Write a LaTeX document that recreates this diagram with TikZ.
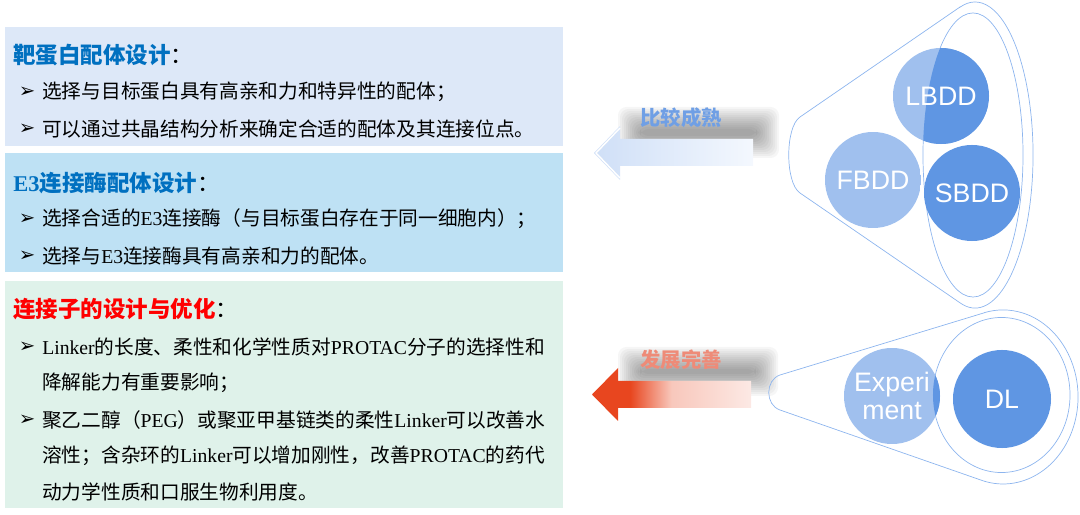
\documentclass[tikz,border=0pt]{standalone}
\usepackage{fontspec}
\setmainfont{Noto Sans CJK SC}
\newfontfamily\tnr{Liberation Serif}
\newfontfamily\arial{Liberation Sans}
\newfontfamily\dejavu{DejaVu Sans}
\usepackage{tikz}
\usepackage{xcolor}
\definecolor{boxTarget}{HTML}{DDE8F8}
\definecolor{boxLigase}{HTML}{BEE1F4}
\definecolor{boxLinker}{HTML}{DFF2EA}
\definecolor{headBlue}{HTML}{0070C0}
\definecolor{headRed}{HTML}{FF0000}
\definecolor{discLight}{HTML}{A0C0EE}
\definecolor{discDark}{HTML}{5F96E3}
\definecolor{rimBlue}{HTML}{8DB5EE}
\definecolor{arrowRed}{HTML}{E8461F}
\definecolor{arrowBlueA}{HTML}{CFDFF7}
\definecolor{arrowBlueB}{HTML}{B6CFF3}
\definecolor{arrowBlueC}{HTML}{F4F8FE}
\definecolor{tagBlue}{HTML}{6F9FE5}
\definecolor{tagRed}{HTML}{EE8B78}
\newcommand\lat[1]{{\tnr #1}}
\newcommand\blt{{\dejavu\fontsize{14}{14}\selectfont ➢}}
\pgfdeclarehorizontalshading{redfade}{100bp}{color(0bp)=(arrowRed); color(25bp)=(arrowRed); color(37bp)=(arrowRed); color(50bp)=(arrowRed!30!white); color(75bp)=(arrowRed!12!white); color(100bp)=(arrowRed!12!white)}

\begin{document}
\begin{tikzpicture}[x=0.025cm, y=0.025cm,
  headtxt/.style={anchor=west, inner sep=0pt, font=\fontsize{16}{18}\selectfont},
  bodytxt/.style={anchor=west, inner sep=0pt, font=\fontsize{14}{16}\selectfont},
  bulletsym/.style={inner sep=0pt},
  tagtxt/.style={inner sep=0pt, font=\bfseries\fontsize{14.5}{16}\selectfont},
  rim/.style={draw=rimBlue, line width=0.5pt},
  disc/.style={circle, inner sep=0pt, minimum size=2.4cm, text=white, align=center,
    font=\arial\fontsize{19}{20.5}\selectfont},
  darkdisc/.style={disc, fill=discDark},
  halfdisc/.style={disc, path picture={
    \fill[discLight] (path picture bounding box.south west) rectangle (path picture bounding box.north east);
    \fill[discDark] #1;}}]
  \useasboundingbox (0,0) rectangle (1080,514);

  % three panels
  \fill[boxTarget] (5,368) rectangle (563,487);
  \fill[boxLigase] (5,242) rectangle (563,361);
  \fill[boxLinker] (5,6) rectangle (563,233);

  \node[headtxt] (hTarget) at (13,459) {\textcolor{headBlue}{\bfseries 靶蛋白配体设计}：};
  \node[headtxt] (hLigase) at (13,331) {\textcolor{headBlue}{\bfseries\lat{E3}连接酶配体设计}：};
  \node[headtxt] (hLinker) at (13,205) {\textcolor{headRed}{\bfseries 连接子的设计与优化}：};

  \foreach \y [count=\i] in {422,385,295,258,167,94}
    \node[bulletsym] (blt\i) at (27,\y) {\blt};

  \node[bodytxt] (t1) at (42,422) {选择与目标蛋白具有高亲和力和特异性的配体；};
  \node[bodytxt] (t2) at (42,385) {可以通过共晶结构分析来确定合适的配体及其连接位点。};
  \node[bodytxt] (t3) at (42,295) {选择合适的\lat{E3}连接酶（与目标蛋白存在于同一细胞内）；};
  \node[bodytxt] (t4) at (42,258) {选择与\lat{E3}连接酶具有高亲和力的配体。};
  \node[bodytxt] (t5) at (42,167) {\lat{Linker}的长度、柔性和化学性质对\lat{PROTAC}分子的选择性和};
  \node[bodytxt] (t6) at (42,131) {降解能力有重要影响；};
  \node[bodytxt] (t7) at (42,94) {聚乙二醇（\lat{PEG}）或聚亚甲基链类的柔性\lat{Linker}可以改善水};
  \node[bodytxt] (t8) at (42,58) {溶性；含杂环的\lat{Linker}可以增加刚性，改善\lat{PROTAC}的药代};
  \node[bodytxt] (t9) at (42,22) {动力学性质和口服生物利用度。};

  % blurred shadows behind the arrows
  \foreach \k in {0,...,11} {
    \fill[black, opacity=0.035, rounded corners=6pt] ({618+2*\k},{356+2*\k}) rectangle ({779-2*\k},{407-2*\k});
    \fill[black, opacity=0.035, rounded corners=6pt] ({618+2*\k},{118+2*\k}) rectangle ({778-2*\k},{167-2*\k});
  }

  % arrows
  \shade[left color=arrowBlueA, middle color=arrowBlueB, right color=arrowBlueC] (594,361) -- (620,388) -- (620,375) -- (753,375) -- (753,348) -- (620,348) -- (620,334) -- cycle;
  \draw[white, line width=1pt] (620,386) -- (596,361) -- (620,336);
  \shade[shading=redfade] (592,119.5) -- (618,146) -- (618,133) -- (751,133) -- (751,106) -- (618,106) -- (618,93) -- cycle;

  \node[tagtxt, text=tagBlue] (tagTop) at (681,396) {比较成熟};
  \node[tagtxt, text=tagRed] (tagLow) at (681,154) {发展完善};

  % funnels
  \coordinate (coreTop) at (973,359);
  \coordinate (coreLow) at (1001.5,119);
  \draw[rim] (960,507) -- (800,397) .. controls (785,387) and (785,331) .. (800,321) -- (960.4,210.9)
    arc[start angle=-104.6, end angle=105, x radius=1.45cm, y radius=3.825cm] -- cycle;
  \draw[rim] (coreTop) ellipse[x radius=1.25cm, y radius=3.55cm];
  \draw[rim] (984.9,201.4) -- (780,139) .. controls (765,134) and (765,109) .. (780,104) -- (983.6,33)
    arc[start angle=-105, end angle=104, x radius=1.875cm, y radius=2.175cm] -- cycle;
  \draw[rim] (coreLow) ellipse[x radius=1.7125cm, y radius=1.9375cm];

  \node[halfdisc={(coreTop) ellipse[x radius=1.25cm, y radius=3.55cm]}] (lbdd) at (941,418) {LBDD};
  \node[halfdisc={(coreTop) ellipse[x radius=1.25cm, y radius=3.55cm]}] (fbdd) at (873,334) {FBDD};
  \node[darkdisc] (sbdd) at (972,321) {SBDD};
  \node[halfdisc={(coreLow) ellipse[x radius=1.7125cm, y radius=1.9375cm]}] (expt) at (892,118) {Experi\\ment};
  \node[darkdisc, minimum size=2.45cm] (dl) at (1002,115) {DL};
\end{tikzpicture}
\end{document}
